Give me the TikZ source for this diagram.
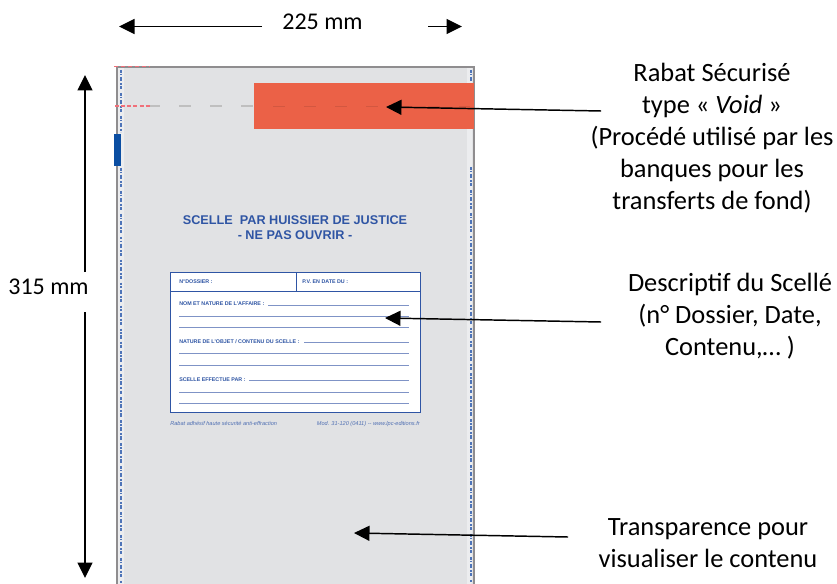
\documentclass[tikz,border=0pt]{standalone}
\usepackage{fontspec}
\setmainfont{Carlito}
\newfontfamily\bagfont{Liberation Sans}
\usetikzlibrary{arrows.meta}
\definecolor{bagfill}{HTML}{E1E2E4}
\definecolor{bagstrip}{HTML}{ECEDEF}
\definecolor{bagedge}{HTML}{8F8D8F}
\definecolor{flapred}{HTML}{EB6147}
\definecolor{tabblue}{HTML}{0B4EA2}
\definecolor{inkblue}{HTML}{2F55A4}
\definecolor{ruleblue}{HTML}{7F93C6}
\definecolor{redash}{HTML}{F0707A}
\definecolor{microblue}{HTML}{4E74B8}
\tikzset{
  dimarrow/.style={-{Triangle[length=15.5*0.75pt,width=15*0.75pt]},black,line width=1.1pt},
  dimlabel/.style={font=\fontsize{18}{24}\selectfont,text=black,inner sep=0pt,align=center},
  label/.style={font=\fontsize{19.8}{24}\selectfont,text=black,inner sep=0pt,align=center},
  bagtitle/.style={font=\bagfont\bfseries\fontsize{9.5}{11.4}\selectfont,text=inkblue,inner sep=0pt,align=center},
  formlabel/.style={font=\bagfont\bfseries\fontsize{4}{4.5}\selectfont,text=inkblue,inner sep=0pt,anchor=west},
  footlabel/.style={font=\bagfont\itshape\fontsize{4.2}{4.5}\selectfont,text=inkblue!85!white,inner sep=0pt},
  formrule/.style={ruleblue,line width=0.6pt},
  microtext/.style={microblue,line width=1.3pt,dash pattern=on 2pt off 0.8pt on 1.2pt off 1.2pt on 3pt off 1.6pt on 1.5pt off 0.8pt on 2.5pt off 2.6pt},
}
\begin{document}
\begin{tikzpicture}[x=0.75pt,y=-0.75pt]
\useasboundingbox (0,0) rectangle (837,584);
% bag
\fill[bagfill] (116,67) rectangle (474,584);
\fill[bagstrip] (118,67) rectangle (124,584);
\fill[bagstrip] (467,67) rectangle (472,584);
\draw[bagedge,line width=1.4pt] (116.7,584) -- (116.7,66.7) -- (474,66.7) -- (474,584);
% microtext strips
\draw[microtext] (121,70) -- (121,132);
\draw[microtext] (121,168) -- (121,584);
\draw[microtext] (471,70) -- (471,82);
\draw[microtext] (471,167) -- (471,584);
% tear line
\draw[black!25,line width=0.8pt,dash pattern=on 9pt off 14.3pt] (148,106) -- (254,106);
\draw[redash,line width=0.8pt,dash pattern=on 3pt off 1.6pt] (115,106) -- (151,106);
\draw[redash,line width=0.8pt,dash pattern=on 3pt off 2.2pt] (114,66.5) -- (150,66.5);
% flap and tab
\fill[flapred] (254,83) rectangle (473.5,129);
\draw[black!10!flapred,line width=0.6pt,dash pattern=on 9pt off 14.3pt] (273,106) -- (470,106);
\fill[tabblue] (114,134) rectangle (120.7,166);
% title
\node[bagtitle] (title) at (295,228) {SCELLE\ \ PAR HUISSIER DE JUSTICE\\- NE PAS OUVRIR -};
% form
\node[draw=inkblue,line width=0.8pt,fill=white,minimum width=250*0.75pt,minimum height=139.5*0.75pt,inner sep=0pt] (form) at (295.3,342.3) {};
\coordinate (hl) at (170.5,291.7);
\coordinate (hr) at (420.5,291.7);
\coordinate (vt) at (296.7,272.7);
\coordinate (vb) at (296.7,291.7);
\draw[inkblue,line width=0.6pt] (hl) -- (hr);
\draw[inkblue,line width=0.6pt] (vt) -- (vb);
\node[formlabel] (lbla) at (179,282) {N°DOSSIER :};
\node[formlabel] (lblb) at (302,282) {P.V. EN DATE DU :};
\node[formlabel] (lblc) at (179,304) {NOM ET NATURE DE L'AFFAIRE :};
\node[formlabel] (lbld) at (179,342) {NATURE DE L'OBJET / CONTENU DU SCELLE :};
\node[formlabel] (lble) at (179,379.5) {SCELLE EFFECTUE PAR :};
\draw[formrule] (268,305) -- (409,305);
\draw[formrule] (179,316.3) -- (409,316.3);
\draw[formrule] (179,327.3) -- (409,327.3);
\draw[formrule] (304,342.7) -- (409,342.7);
\draw[formrule] (179,353.7) -- (409,353.7);
\draw[formrule] (179,365.3) -- (409,365.3);
\draw[formrule] (249,380.3) -- (409,380.3);
\draw[formrule] (179,392) -- (409,392);
\draw[formrule] (179,403) -- (409,403);
\node[footlabel,anchor=base west] (footl) at (170,425) {Rabat adhésif haute sécurité anti-effraction};
\node[footlabel,anchor=base east] (footr) at (420,425) {Mod. 31-120 (0411) -- www.lpc-editions.fr};
% dimensions
\node[dimlabel] (w) at (322.5,22) {225 mm};
\node[dimlabel] (h) at (48.5,287) {315 mm};
\coordinate (wl) at (262,26.5); \coordinate (wle) at (119,26.5);
\coordinate (wr) at (428,26.5); \coordinate (wre) at (462,26.5);
\coordinate (ht) at (85,272); \coordinate (hte) at (85,75);
\coordinate (hb) at (85,312); \coordinate (hbe) at (85,578);
\draw[dimarrow] (wl) -- (wle);
\draw[dimarrow] (wr) -- (wre);
\draw[dimarrow] (ht) -- (hte);
\draw[dimarrow] (hb) -- (hbe);
% callouts
\node[label] (rabat) at (712,138) {Rabat Sécurisé\\type « \textit{Void} »\\(Procédé utilisé par les\hspace*{7.5pt}\\banques pour les\\transferts de fond)};
\node[label] (desc) at (730,316) {Descriptif du Scellé\\(n° Dossier, Date,\\Contenu,… )};
\node[label] (trans) at (708,543.5) {Transparence pour\\visualiser le contenu};
\coordinate (a1s) at (601,111); \coordinate (a1e) at (386,107);
\coordinate (a2s) at (601,322); \coordinate (a2e) at (385,318);
\coordinate (a3s) at (568,537); \coordinate (a3e) at (354,533);
\draw[dimarrow] (a1s) -- (a1e);
\draw[dimarrow] (a2s) -- (a2e);
\draw[dimarrow] (a3s) -- (a3e);
\end{tikzpicture}
\end{document}
